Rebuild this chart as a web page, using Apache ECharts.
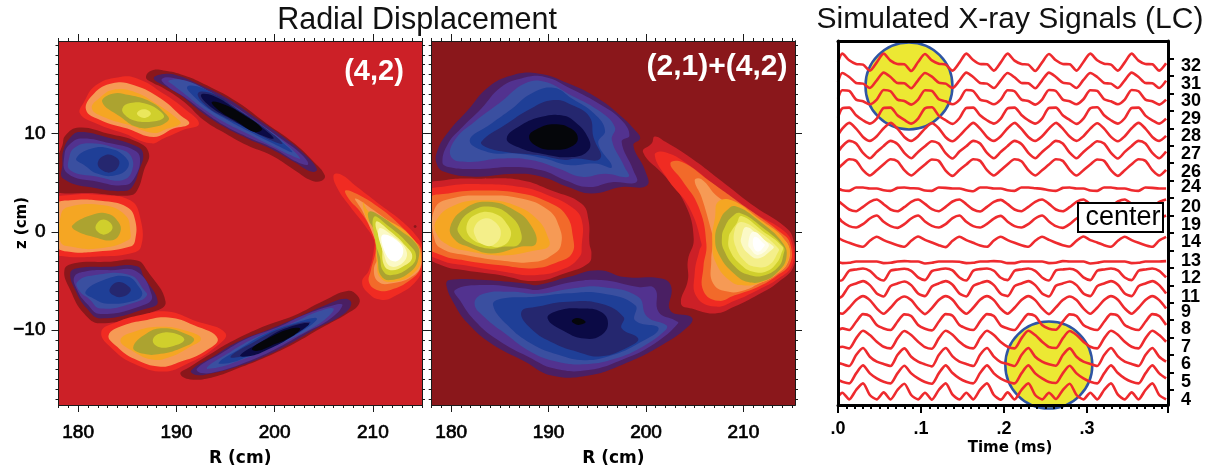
<!DOCTYPE html>
<html><head><meta charset="utf-8">
<script src="https://cdn.jsdelivr.net/npm/echarts@6/dist/echarts.min.js"></script>
<style>html,body{margin:0;padding:0;background:#fff}#c{width:1212px;height:473px}</style>
</head><body><div id="c"></div>
<script>
// ---- contour level colours, lowest to highest displacement
const levelColors=['#05060a','#0b0a45','#25276f','#1f3f97','#3a4fa0','#52328f','#4a1f63','#8a171b','#cc2027','#f02b22','#f26a2a','#f69a55','#f5a623','#aca330','#d0cf2c','#ebe75c','#f4ef8a','#fbf9c6','#fefde8','#ffffff'];
// ---- panel (4,2): each ring = [level, R values, z values]
const upperRidge=[
[7,[186.9,187.5,188.7,190.8,193.1,196.2,199.2,202,204,205.1,204.8,203.8,202,199.6,197.2,195,192.8,190.8,188.7,187.4],[15.75,16.4,16.4,15.9,14.9,13.2,11,9,7.1,5.75,5.2,5.2,6.3,7.8,8.8,10,11.35,13.2,14.6,15.25]],
[6,[187.7,188.4,190.1,192.5,195.2,198.2,200.9,203,204.3,203.8,202,199.6,197.2,194.8,192.5,190.4,188.7],[15.6,16,15.9,14.9,13.55,11.5,9.65,7.95,6.4,6.1,7.1,8.45,9.5,10.7,12.2,13.9,14.9]],
[5,[188.5,189.7,192.1,195.2,198.2,200.9,202.8,203.4,202.3,199.9,197.2,194.8,192.8,190.8,189.2],[15.5,15.65,14.75,13.2,11.2,9.3,7.8,6.85,7.1,8.5,9.65,10.85,12.2,13.7,14.7]],
[4,[189.2,190.8,193.1,195.9,198.6,200.9,202.6,201.6,199.6,197.2,194.8,192.8,190.8,189.7],[15.35,15.4,14.4,12.7,10.85,9.15,7.45,7.8,8.8,10,11.2,12.5,14.05,14.9]],
[3,[191.1,192.8,195.2,197.9,200.3,201.8,199.9,197.5,195.5,193.5,192],[14.75,14.55,13.05,11.2,9.5,8.1,8.95,10.15,11.2,12.35,13.55]],
[2,[192.2,193.8,196.2,198.6,200.8,199.2,196.9,194.8,193],[14.1,14,12.5,10.85,9,9.5,10.7,11.7,12.85]],
[1,[192.5,193.8,196.2,198.2,199.9,197.9,195.5,193.5],[13.9,13.8,12.35,11,9.5,10.15,11.5,12.7]],
[0,[193.6,195,196.9,198.7,198,196.2,194.5],[13.2,12.9,11.85,10.5,10.15,11.2,12.2]]];
const upperWarm=[
[9,[180.2,180.6,181.8,184,186,188.7,190.8,192.3,190.8,188.7,187.4,184.7,181.9],[12,13.2,14.9,15.7,15.6,14.05,12.55,11,10.4,9.5,9,10,11]],
[11,[180.8,181.6,183.5,185.7,188.4,190.4,191.3,189.7,187.7,185,182.3],[12.4,14.05,15.1,14.9,13.55,11.85,11,10.5,9.65,10.5,11.35]],
[12,[181.4,182.3,183.6,185.8,188,190.1,190.4,189.1,187.7,185.2,182.8],[12.55,13.7,14.45,14.2,13,11.5,11,10.5,10.05,10.85,11.6]],
[13,[182.45,183.5,185.2,187.4,188.9,189.2,187.7,186,184.3],[13.2,14.05,13.9,13.2,12,11.35,10.65,10.65,11.7]],
[14,[184.5,185.3,187,188.4,188.7,187.4,185.8,184.8],[12.55,13.1,13,12.2,11.6,11.2,11.3,11.85]],
[15,[186,186.7,187.4,186.9,186.2],[12.1,12.45,12.05,11.6,11.75]]];
const leftUpperBlue=[
[7,[178.4,178.7,180.1,183,186,187.2,186.7,186,185.2,182,177],[8.8,9.8,10.6,10,9.15,8,6.25,4.2,3.7,3.9,4.6]],
[6,[178.5,179.2,180.2,183,185.7,186.6,186.2,185.5,184.7,182,178.5,178.4],[8.3,9.6,10.15,9.6,8.8,8,6.25,4.55,4.15,4.4,5.4,6.95]],
[5,[178.6,179.2,180.4,183.3,185.7,186.3,185.8,184.8,182,178.9],[7.8,8.95,9.5,9,8.3,7.45,5.6,4.75,5.1,5.95]],
[4,[179.1,179.7,181.3,184,185.3,185.5,184.5,182,179.2],[7.6,8.6,9,8.45,7.8,6.25,5.25,5.6,6.25]],
[3,[179.8,181.3,183.3,184.8,185.1,183.8,182,180.6],[7.45,8.45,8.45,7.6,6.6,5.75,5.9,6.8]],
[2,[182,182.8,183.8,184.2,183.5,182.45],[7.05,7.8,7.6,6.95,6.1,6.25]]];
const leftWarm=[
[9,[177.6,179.2,182.3,185.3,186.3,186.4,185.3,182,178.7,177.6],[3.2,3.75,3.75,3.2,1.5,-1.5,-2.2,-2.5,-2.5,-2]],
[11,[177.8,179.2,182.3,185,185.8,185.8,185.3,182,178.9,177.8],[2.7,3.2,3.15,2.5,1.2,-.85,-1.5,-2,-2,-1.35]],
[12,[178.2,178.9,182.6,184.8,185.3,185.1,182,179.2,178.2],[1.5,2.5,2.7,1.7,.15,-.84,-1.7,-1.5,-1]],
[13,[179.4,181.3,183,184.1,184.3,183.5,181.5,179.8],[.65,1.7,1.85,1,0,-.85,-.5,.1]],
[14,[181.8,182.6,183.5,182.8,182],[.65,1.25,.5,-.25,0]]];
const leftLowerBlue=[
[7,[178.6,179.6,183,186,187,188.9,187.7,182.3,180.6,179.2],[-3.9,-3.2,-3.05,-2.9,-3.9,-7.1,-8.1,-9.3,-8.3,-5.9]],
[6,[179.2,179.9,183,186,186.7,188.1,187,182.3,180.9,179.7],[-4.2,-3.7,-3.55,-3.5,-4.6,-7.1,-7.8,-8.8,-7.8,-5.9]],
[5,[179.6,180.6,183.3,186,187.5,187,182.3,180.9,179.9],[-4.6,-4.05,-3.9,-4.05,-6.45,-7.3,-8.35,-7.3,-5.9]],
[4,[179.9,181.6,185.3,186.7,187,186,182.3,181.1,180.2],[-5.1,-4.4,-4.4,-5.9,-6.45,-7.1,-7.8,-6.8,-6.1]],
[3,[180.75,182.6,185,186.2,186.5,185.7,183,181.6],[-6.1,-4.9,-4.55,-5.6,-6.45,-7,-7.3,-6.8]],
[2,[183.2,184.1,185.2,185.3,184.5,183.6],[-5.85,-5.1,-5.6,-6.1,-6.6,-6.45]]];
const lowerWarm=[
[9,[182.35,184,186.35,189.1,191.8,195,193.8,191.1,188.7,185.7,183.6],[-10.2,-9.15,-8.45,-8.1,-9,-10.3,-11.85,-13.4,-14.2,-13.4,-12]],
[11,[183.1,184.65,186.7,189.2,191.8,194.2,192.8,190.4,188.4,185.7,184],[-10.5,-9.5,-9,-8.7,-9.5,-10.85,-12.2,-13.2,-13.7,-12.9,-11.7]],
[12,[184.3,186,188.4,190.8,192.5,191.1,189.4,187.7,185.7],[-11,-10.05,-9.65,-10,-10.85,-11.85,-12.7,-13,-12.2]],
[13,[185.6,187,188.7,190.8,191.8,190.4,188.4,186.7],[-11.75,-10.3,-9.8,-10.3,-11,-11.85,-12.4,-12.4]],
[14,[187.6,188.4,190.1,190.8,189.7,188.2],[-11,-10.3,-10.4,-11,-11.6,-11.7]]];
const lowerRidge=[
[7,[190.4,191.4,193.8,196.2,199.2,202,205,207.4,208.4,208.6,207.4,204.7,202,199.2,196.2,193.8,191.4],[-14.4,-13.7,-12.2,-10.85,-9.5,-8.5,-7,-6,-6.45,-7.3,-8.3,-9.8,-11.35,-12.7,-13.9,-14.75,-15]],
[6,[191.5,193.8,196.2,199.6,202.3,205.4,207.2,207.8,206.9,204.3,201.6,198.9,196.2,193.5,192],[-14.1,-12.65,-11.2,-9.85,-8.7,-7.35,-6.8,-7.3,-8.45,-9.8,-11.35,-12.7,-13.7,-14.4,-14.55]],
[5,[192.1,194.5,197.2,200.3,203,206,206.9,205.7,203,199.9,197.2,194.2,192.5],[-13.9,-12.4,-10.85,-9.7,-8.45,-7.45,-7.45,-8.8,-10.3,-12,-13.2,-14.2,-14.35]],
[4,[193.1,195.5,198.2,201.3,204.3,206,205,202,199.2,196.5,194.2],[-13.8,-12.2,-10.7,-9.5,-8.15,-7.8,-9,-10.7,-12,-13.05,-13.8]],
[3,[194.3,196.5,199.2,202,204.3,202.6,199.9,197.2,195.5],[-13.3,-11.85,-10.3,-9.3,-8.8,-10.2,-11.5,-12.7,-13.3]],
[2,[195.5,197.9,200.6,203.6,202.3,199.6,197.2],[-12.7,-11.2,-9.85,-9.15,-10.2,-11.7,-12.55]],
[1,[196.5,198.6,201,203.5,202,199.2,197.4],[-12.55,-11.2,-9.85,-9.3,-10.5,-12,-12.65]],
[0,[197.7,199.6,201.6,202.6,201.6,199.6,198.2],[-11.85,-10.7,-9.85,-9.85,-10.7,-11.6,-12.1]]];
const rightWarm=[
[9,[206,206.7,208.4,210.8,212.8,214.5,215.1,215.1,214.5,212.1,210.8,209.6,208.9,209.6,210.1,210.1,209.3,207.7,206.4],[5.75,5.85,4.55,2.7,1.2,-.5,-1.7,-2.9,-4.9,-6.6,-6.9,-6.3,-5.1,-3.9,-1.85,-.84,.5,2.55,4.4]],
[10,[207.2,208.4,210.8,212.8,214.2,214.9,214.9,213.8,211.8,210.4,209.6,209.8,210.3,210.2,209.7,208.6,207.6],[4.2,3.85,2.35,.65,-.85,-1.7,-3.55,-4.9,-5.9,-5.9,-5.1,-3.9,-1.85,-.84,.5,2.2,3.3]],
[11,[208.2,210.1,212.8,214.3,214.9,213.9,211.8,210.6,210.1,210.6,210.1,208.9],[3.4,2.2,.15,-1.2,-3.3,-4.6,-5.25,-5.1,-3.9,-2.2,-.5,2.2]],
[12,[209,209.6,211.5,213.9,214.9,214.1,211.8,210.7,210.4,210.1,209.3],[3,2.05,1.2,-.5,-2.5,-4.25,-5.1,-4.6,-3.2,.15,1.5]],
[13,[209.6,210.4,212.8,214.4,214.7,213.9,211.8,210.8,210.5,210.1,209.6],[2.05,1.85,.15,-1.2,-2.4,-4,-4.9,-4.4,-2.9,.15,1.2]],
[14,[210.1,211.5,213.6,214.4,213.6,211.8,211,210.7,210.3],[1.5,.65,-1.2,-2.5,-3.7,-4.4,-3.9,-2.5,-1.2]],
[16,[210.3,211.6,213.4,214,213.1,211.8,211.1,210.9],[1,.2,-1.5,-2.6,-3.5,-3.9,-3.3,-1.5]],
[17,[210.6,212,213.4,213.1,211.8,211.1],[.3,-.4,-1.9,-3.1,-3.5,-2.2]],
[19,[211,212.8,213,212.1,211.2],[-.3,-1.2,-2.4,-3,-2]],
[7,[214.15,214.3,214.45,214.3],[.55,.7,.55,.4]]];
// ---- panel (2,1)+(4,2)
const mixUpperBlue=[
[6,[178.5,178.6,179.7,181.7,183.8,186.2,188.9,192,195.1,197.5,198.9,199.4,198.7,199.9,200.1,197.5,194.4,192,189.3,186.5,182.4,179.3],[6.95,8.3,10.15,12.35,14.7,15.9,16.1,15.1,13.55,11.7,10.3,9.5,8.8,6.25,4.7,4.55,3.9,4.55,5.6,5.9,5.6,6.1]],
[5,[179.1,179.7,181,183.1,185.1,187.2,189.6,192.3,195.4,197.5,198.3,197.5,198.7,199,196.5,194.1,191.7,189.3,186.5,182.4,179.7],[7.1,9,10.5,12.55,14.7,15.6,15.75,14.55,12.9,11.35,9.8,9.15,6.25,5.05,5.05,4.55,5.25,6.25,6.6,6.4,6.6]],
[4,[180,180.35,182.4,185.1,187.6,189.6,192,195.1,196.8,196.5,197.8,198.2,195.8,193.4,191,188.2,185.1,181.7],[7.6,9.3,11.2,13.2,15.1,15.25,14.05,12.35,10.65,9.3,6.6,5.6,5.9,5.6,6.45,7.3,7.45,7.1]],
[3,[181.9,184.1,186.2,188.2,190.5,192.4,194.7,195.8,195.1,196.5,194.8,192,189.6,186.9,183.8],[9.3,11,12.5,14.05,14.65,13.55,12,10.3,9,6.6,6.95,6.8,7.45,7.95,8.1]],
[2,[183.1,185.5,188.2,190.5,192.4,194.2,194.6,195.3,192.7,191.7,188.9,185.8,183.6],[9.15,10.85,12.55,13.4,12.9,11.7,9.65,7.45,7.45,7.3,7.8,8.1,8.6]],
[1,[185.7,187.2,189.3,191.3,192.7,194.1,194.1,192.4,189.3,186.9],[9.5,10.85,11.7,11.85,11.2,9.5,8.3,7.6,7.95,8.6]],
[0,[188,188.9,190.6,192.3,193,192.3,190.6,188.9],[9.65,10.5,10.95,10.5,9.5,8.65,8.35,8.65]]];
const mixLeftWarm=[
[8,[177.5,179.3,183.1,187.2,190.3,193.4,194.1,194.2,194.4,194.1,191.7,188.6,185.1,181.4,179,177.5],[4.55,5.25,5.4,5.25,4.2,2.85,1.2,-1.2,-2.2,-3.2,-4.2,-5,-4.4,-3.9,-3.4,-2.2]],
[9,[177.5,179.3,183.1,187.2,190,192.4,193.4,193.4,193.2,191.7,188.6,185.1,181.4,179,177.5],[3.9,4.6,4.85,4.55,3.7,2.5,1.2,-1.5,-2.5,-3.7,-4.4,-4,-3.4,-2.9,-1.85]],
[10,[177.6,179.7,183.4,187.2,190,191.8,192.5,192.4,191,188.6,185.1,181.4,179.1,177.6],[3.2,3.9,4.2,3.9,3,1.7,-.5,-2.2,-3.05,-3.7,-3.4,-2.9,-2.4,-1.35]],
[11,[178.3,180,183.4,187.2,190,191.1,191.3,190.6,188.6,185.1,181.7,179.3,178.3],[2.35,3.4,3.7,3.4,2.2,.5,-1.2,-2.2,-3.05,-2.9,-2.4,-1.85,-.84]],
[12,[178.5,180.35,183.4,186.5,188.9,190,190,188.9,185.1,181.7,179.7,178.5],[1.2,2.7,3.2,2.7,1.2,-.7,-1.5,-1.85,-2.4,-1.95,-1.35,-.2]],
[13,[179.9,181.4,183.8,186.5,188.2,188.7,187.2,184.1,181.7,180.4],[.5,2.35,3.05,2.2,.65,-1.2,-1.5,-2.2,-1.5,-.84]],
[14,[180.7,181.9,184.1,186.2,187.2,186.9,185.5,183.8,181.7,180.9],[.5,2,2.55,1.5,-.2,-1.3,-1.5,-1.7,-1,-.3]],
[15,[181.6,182.7,184.5,185.8,186.1,185.1,183.8,182.1],[.7,1.85,1.85,.7,-.5,-1.5,-1.35,-.7]],
[16,[182.4,183.4,184.5,185.1,184.3,183.1,182.5],[.5,1.35,1,-.2,-1.35,-1.2,-.5]]];
const mixRightWarm=[
[8,[199.7,200.6,200.9,202,204.7,208.1,211.2,214.3,215.1,215.2,213.6,211.5,209.1,207.1,204.7,203.6,204.3,204.3,204.9,204,202],[8.1,9,9.7,9.15,7.45,4.9,2.55,.5,-.7,-3.4,-5.1,-6.4,-7.6,-8.3,-7.8,-7.3,-4.9,-2.9,-.7,2.85,5.6]],
[9,[200.9,202,204.7,208.1,211.2,214.1,215,215,213.6,211.5,209.1,207.1,205.2,205,205.5,205.7,204.4,202.3],[7.8,8.1,6.6,3.9,1.85,.15,-1.2,-3.4,-4.75,-5.9,-7,-7.6,-6.6,-4.2,-1.85,-1.2,2.55,5.25]],
[10,[202.5,203.7,206.4,210.2,214,214.8,214.8,213.4,211.5,209.1,207.4,205.9,205.9,206.2,205.4,203.7],[6.95,7.1,5.25,2.55,-.2,-1.2,-3.2,-4.5,-5.6,-6.45,-7,-6,-3.55,-1.2,2.55,5.25]],
[11,[205,205.7,207.4,210.2,213.6,214.6,214.6,213.3,211.5,210.2,208.5,206.9,206.7,206.9,206.7,205.7],[5.25,5.35,3.55,2,-.5,-1.35,-3.05,-4.4,-5.3,-5.9,-6.1,-5.25,-2.9,-.84,.15,3.55]],
[12,[207.4,208.8,211.5,214.4,214.6,213.3,211.5,210.2,208.8,207.2,206.8,207.1],[3.05,3.2,1.4,-1,-2.9,-4.35,-5.25,-5.45,-5.1,-3.2,-.8,1.5]],
[13,[208.3,209.2,211.5,214.1,214.4,213.6,212.2,210.5,209,207.6,207.1,207.6],[2.2,2.6,1.2,-1.2,-2.7,-4,-4.95,-5.1,-4.2,-2.5,-.7,1.2]],
[14,[208.8,209.7,211.9,214.1,214.1,213.6,212.2,210.7,209.3,208,207.8,208.1],[1.5,1.9,.5,-1.5,-2.4,-3.55,-4.4,-4.4,-3.7,-1.85,-.5,.5]],
[15,[209.3,209.8,211.9,214,213.9,213.4,212.4,211,209.8,208.6,208.5,208.8],[.85,1.6,.15,-1.5,-2.2,-3.2,-4,-4.05,-3.4,-1.85,-.5,.15]],
[16,[209.8,211.9,213.6,213.6,212.6,211.2,210.2,209.2,209.1],[1,-.2,-1.7,-2,-3.4,-3.55,-3.05,-1.5,.15]],
[17,[210.3,211.9,213.1,212.9,211.5,210.5,209.8,209.8],[.5,-.7,-1.5,-1.85,-2.7,-2.2,-1.2,-.5]],
[18,[211,212.2,212.6,211.5,210.7,210.5],[0,-.85,-1.5,-2.35,-1.7,-1.2]],
[19,[211.2,212.1,212.2,211.5,211],[-.5,-1.2,-1.35,-2,-1.35]]];
const mixLowerBlue=[
[6,[179.5,179.8,183.4,187.6,188.9,192,195.1,197.8,201.6,202.6,202.5,204.7,204.3,201.3,197.8,194.1,190.3,187.6,184.1,181.7,180.3],[-5.4,-4.9,-4.9,-5.25,-5.4,-4.6,-3.9,-4.6,-4.75,-5.6,-8,-8.7,-9.65,-11.7,-13.4,-14.6,-14.6,-13.2,-11.35,-9.3,-7.3]],
[5,[180.4,183.4,187.6,188.9,192.4,195.4,199.2,200.9,201.3,203,203.3,200.9,197.8,194.1,190.6,187.9,184.8,182.4,180.9],[-5.9,-5.4,-5.75,-5.9,-5.1,-4.9,-5.6,-5.75,-8.15,-9,-9.3,-11.35,-12.9,-14.05,-13.9,-12.7,-11,-9,-6.95]],
[4,[182.4,183.3,186.2,188.9,192.4,195.4,199.2,200.1,202.1,202,199.6,196.8,193.7,190.9,188.2,185.5,183.4],[-7.3,-6.3,-6.1,-6.3,-5.75,-5.6,-6.6,-8.6,-9.5,-10,-11.7,-12.9,-13.45,-13.2,-12.2,-10.3,-8.65]],
[3,[184.3,185.1,188.6,192,195.4,198.9,198.9,201.3,199.2,196.5,193.7,191,188.2,185.8],[-7.45,-6.8,-6.6,-6.25,-6.25,-7.45,-9,-9.8,-11.35,-12.55,-13.05,-12.5,-11.35,-9.5]],
[2,[187.2,188.9,192,195.4,197.7,197.5,199.2,198.2,195.4,193,190.6,188.2],[-8.15,-7.6,-7.1,-7.3,-8.65,-9.8,-10.85,-11.7,-12.65,-12.2,-11.35,-9.85]],
[1,[189.9,191,193.4,195.4,196.1,195.4,193.7,191.7],[-8.8,-8,-7.8,-8.15,-9.3,-10.5,-10.85,-10.15]],
[0,[192.4,193,193.8,193.2,192.6],[-9,-8.75,-9.15,-9.45,-9.3]]];
// ---- axis ticks of the two contour panels
const rMajor=[180,190,200,210];
const zMajor=[-10,0,10];
const zMajorLabels=['−10','0','10'];
const rMinorA=[178,179,180,181,182,183,184,185,186,187,188,189,190,191,192,193,194,195,196,197,198,199,200,201,202,203,204,205,206,207,208,209,210,211,212,213,214,215];
const zMinor=[-17,-16,-15,-14,-13,-12,-11,-10,-9,-8,-7,-6,-5,-4,-3,-2,-1,0,1,2,3,4,5,6,7,8,9,10,11,12,13,14,15,16,17,18,19];
// ---- X-ray signal panel
const times=[0,.0052,.0135,.0218,.0301,.0384,.0467,.055,.0633,.0716,.0799,.0882,.0965,.1048,.1131,.1214,.1297,.138,.1463,.1546,.1629,.1712,.1795,.1878,.1961,.2044,.2127,.221,.2293,.2376,.2459,.2542,.2625,.2708,.2791,.2874,.2957,.304,.3123,.3206,.3289,.3372,.3455,.3538,.3621,.3704,.3787,.387,.3953];
const channelNames=['4','5','6','7','8','9','11','12','13','14','19','20','24','26','27','28','29','30','31','32'];
const channelLabelPos=[15,70,123,175,227,280,325,380,433,490,540,595,655,700,753,807,860,912,965,1017];
const channelOffsets=[37,93,147,197,250,300,345,390,430,492,552,600,649,714,767,819,871,925,977,1029];
const axisTickPos=[45,97,150,202,255,307,359,412,464,516,569,621,674,726,778,831,883,936,988,1040];
const ch32=[1, 26,6,-5,-7,-25,0, 26,5,-5,-6,-26,1, 25,6,-4,-7,-25,-1, 26,7,-5,-6,-25,0, 26,5,-5,-7,-26,0, 25,6,-5,-6,-25,1, 26,6,-4,-7,-25,0, 26,5,-5,-6,-25,-3];
const ch31=[-7, 20,8,-10,-12,-25,-2, 21,8,-10,-11,-26,-2, 20,9,-9,-12,-25,-3, 21,8,-10,-12,-25,-2, 20,7,-10,-11,-26,-2, 21,8,-9,-12,-25,-1, 20,8,-10,-12,-25,-2, 21,8,-10,-11,-25,-3];
const ch30=[-5, 20,18,-8,-13,-22,-8, 21,17,-8,-12,-23,-8, 20,18,-7,-13,-22,-9, 21,18,-8,-13,-22,-8, 20,17,-8,-12,-23,-8, 21,18,-8,-13,-22,-7, 20,18,-7,-13,-22,-8, 21,17,-8,-13,-23,-8];
const ch29=[-8, 20,22,-1,-16,-26,-11, 21,22,-1,-15,-26,-11, 20,23,-2,-16,-27,-10, 21,22,-1,-16,-26,-11, 20,22,0,-16,-26,-11, 21,22,-1,-15,-27,-11, 20,23,-1,-16,-26,-10, 21,22,-2,-16,-26,-11];
const ch28=[-9, 11,28,11,-14,-26,-12, 12,28,11,-14,-26,-12, 11,27,12,-15,-27,-11, 11,28,11,-14,-26,-12, 12,28,10,-14,-26,-12, 11,28,11,-13,-26,-12, 11,27,11,-14,-27,-12, 12,28,11,-14,-26,-11];
const ch27=[-7, 10,26,18,-10,-26,-7, 11,26,17,-10,-26,-7, 10,25,18,-11,-27,-6, 10,26,18,-10,-26,-7, 11,26,17,-10,-26,-7, 10,26,18,-9,-26,-7, 10,25,18,-10,-27,-7, 11,26,18,-10,-26,-6];
const ch26=[-4, 8,24,19,-9,-25,-9, 9,24,18,-9,-25,-9, 8,23,19,-10,-26,-8, 8,24,19,-9,-25,-9, 9,24,18,-9,-25,-9, 8,24,19,-8,-25,-9, 8,23,19,-9,-26,-9, 9,24,19,-9,-25,-8];
const ch24=[1, -4,-6,4,4,1,1, -4,-6,3,4,2,1, -5,-6,4,3,1,1, -4,-7,4,4,1,1, -4,-6,4,4,2,0, -4,-6,3,4,1,1, -5,-6,4,4,1,1, -4,-6,4,3,1,1];
const ch20=[13, 3,-13,-18,-5,10,17, 3,-13,-18,-6,10,17, 4,-12,-18,-5,11,17, 3,-13,-19,-5,10,16, 3,-13,-18,-5,10,17, 4,-13,-18,-6,10,17, 3,-12,-18,-5,11,17, 3,-13,-18,-5,10,17];
const ch19=[13, -2,-15,-19,-9,8,17, -2,-15,-20,-9,8,17, -1,-14,-19,-9,9,17, -2,-15,-19,-8,8,16, -2,-15,-19,-9,8,17, -1,-15,-20,-9,8,17, -2,-14,-19,-9,9,17, -2,-15,-19,-9,8,17];
const ch14=[11, 3,-5,-12,-17,1,13, 3,-5,-12,-17,1,14, 4,-4,-12,-18,1,13, 3,-5,-13,-17,2,13, 3,-5,-12,-17,1,13, 4,-5,-12,-16,1,14, 3,-4,-12,-17,1,13, 3,-5,-12,-17,2,13];
const ch13=[0, -4,-3,1,1,1,1, -4,-3,1,2,1,1, -5,-3,1,1,1,0, -4,-3,1,1,2,1, -4,-4,1,1,1,1, -4,-3,2,1,1,1, -5,-3,1,1,1,1, -4,-3,1,1,1,2];
const ch12=[-17, -15,13,17,20,13,-7, -16,13,17,19,13,-7, -15,12,17,20,14,-7, -16,13,18,20,13,-8, -15,13,17,20,13,-7, -16,14,17,19,13,-7, -15,13,17,20,14,-7, -15,13,17,20,13,-7];
const ch11=[-25, -18,12,20,27,15,-10, -19,12,20,26,15,-10, -18,11,20,27,16,-10, -19,12,21,27,15,-11, -18,12,20,27,15,-10, -19,13,20,26,15,-10, -18,12,20,27,16,-10, -18,12,20,27,15,-10];
const ch9=[-23, -26,-8,15,27,15,-10, -26,-8,15,26,15,-10, -27,-9,15,27,16,-10, -26,-8,16,27,15,-11, -26,-8,15,27,15,-10, -27,-7,15,26,15,-10, -26,-8,15,27,16,-10, -26,-8,15,27,15,-10];
const ch8=[-25, -20,-25,0,23,17,-10, -20,-25,0,22,17,-10, -21,-26,0,23,18,-10, -20,-25,1,23,17,-11, -20,-25,0,23,17,-10, -21,-24,0,22,17,-10, -20,-25,0,23,18,-10, -20,-25,0,23,17,-10];
const ch7=[-24, -22,-27,3,26,13,-7, -22,-27,3,25,13,-7, -23,-28,3,26,14,-7, -22,-27,4,26,13,-8, -22,-27,3,26,13,-7, -23,-26,3,25,13,-7, -22,-27,3,26,14,-7, -22,-27,3,26,13,-7];
const ch6=[-20, -24,-30,3,24,-2,-17, -24,-30,3,23,-2,-17, -25,-31,3,24,-1,-17, -24,-30,4,24,-2,-18, -24,-30,3,24,-2,-17, -25,-29,3,23,-2,-17, -24,-30,3,24,-1,-17, -24,-30,3,24,-2,-17];
const ch5=[-18, -23,-28,2,26,2,-13, -23,-28,2,25,2,-13, -24,-29,2,26,3,-13, -23,-28,3,26,2,-14, -23,-28,2,26,2,-13, -24,-27,2,25,2,-13, -23,-28,2,26,3,-13, -23,-28,2,26,2,-13];
const ch4=[-12, 0,-20,8,28,-7,-20, 1,-20,8,27,-7,-20, 0,-21,8,28,-6,-20, 0,-20,9,28,-7,-21, 1,-20,8,28,-7,-20, 0,-19,8,27,-7,-20, 0,-20,8,28,-6,-20, 1,-20,8,28,-7,-20];
const channelSignals=[ch4,ch5,ch6,ch7,ch8,ch9,ch11,ch12,ch13,ch14,ch19,ch20,ch24,ch26,ch27,ch28,ch29,ch30,ch31,ch32];
const viewPorts=[[.0855,958],[.254,120]];

const panelARings=[].concat(upperRidge,upperWarm,leftUpperBlue,leftWarm,leftLowerBlue,lowerWarm,lowerRidge,rightWarm);
const panelBRings=[].concat(mixLeftWarm,mixUpperBlue,mixRightWarm,mixLowerBlue);

const numFont='"Liberation Sans",Arial,sans-serif';
const nameFont='"DejaVu Sans",sans-serif';
const dark='#1a1a1a';
const numStyle={color:'#000',fontFamily:numFont,fontSize:19,textBorderColor:'#000',textBorderWidth:.7};
const xAxes=[],yAxes=[];
function addPanel(gi,rMax,showZ){
  const line={show:true,onZero:false,lineStyle:{color:dark,width:1}};
  const bx=(g,pos,extra)=>Object.assign({type:'value',position:pos,gridIndex:g,min:178,max:rMax,z:6,axisLine:line,splitLine:{show:false},axisLabel:{show:false}},extra);
  const by=(g,pos,extra)=>Object.assign({type:'value',position:pos,gridIndex:g,min:-17.6,max:19.4,z:6,axisLine:line,splitLine:{show:false},axisLabel:{show:false}},extra);
  const tk=(vals,len)=>({show:true,customValues:vals,length:len,inside:false,lineStyle:{color:dark,width:1}});
  xAxes.push(bx(gi,'bottom',{axisTick:tk(rMajor,7),axisLabel:Object.assign({customValues:rMajor,margin:18,formatter:v=>String(v)},numStyle),
    name:'R (cm)',nameLocation:'middle',nameGap:45,nameMoveOverlap:false,nameTextStyle:{fontFamily:nameFont,fontWeight:'bold',fontSize:17,color:'#000'}}));
  xAxes.push(bx(gi,'top',{axisTick:tk(rMajor,7)}));
  yAxes.push(by(gi,'left',{axisTick:tk(zMajor,7),
     axisLabel:showZ?Object.assign({customValues:zMajor,margin:13,formatter:v=>zMajorLabels[zMajor.indexOf(v)]},numStyle):{show:false},
     name:showZ?'z (cm)':'',nameLocation:'middle',nameGap:29,nameMoveOverlap:false,nameTextStyle:{fontFamily:nameFont,fontWeight:'bold',fontSize:15,color:'#000'}}));
  yAxes.push(by(gi,'right',{axisTick:tk(zMajor,7)}));
  // short 1 cm ticks on an overlaid grid
  xAxes.push(bx(gi+1,'bottom',{axisTick:tk(rMinorA,3)}));
  xAxes.push(bx(gi+1,'top',{axisTick:tk(rMinorA,3)}));
  yAxes.push(by(gi+1,'left',{axisTick:tk(zMinor,3)}));
  yAxes.push(by(gi+1,'right',{axisTick:tk(zMinor,3)}));
}
addPanel(0,215,true);     // x 0..3, y 0..3
addPanel(2,215.3,false);  // x 4..7, y 4..7
const sX=8,sY=8;
xAxes.push({type:'value',gridIndex:4,position:'bottom',min:0,max:.3976,interval:.1,z:6,
  axisLine:{show:true,onZero:false,lineStyle:{color:'#000',width:3}},splitLine:{show:false},
  axisTick:{show:true,length:8,lineStyle:{color:'#000',width:2}},minorTick:{show:true,splitNumber:10,length:4,lineStyle:{color:'#000',width:2}},
  axisLabel:{margin:15,showMaxLabel:false,color:'#000',fontFamily:numFont,fontWeight:'bold',fontSize:18,formatter:v=>'.'+Math.round(v*10)},
  name:'Time (ms)',nameLocation:'middle',nameGap:36,nameMoveOverlap:false,nameTextStyle:{fontFamily:nameFont,fontWeight:'bold',fontSize:15,color:'#000',padding:[0,0,0,14]}});
xAxes.push({type:'value',gridIndex:4,position:'top',min:0,max:.3976,z:6,axisLine:{show:true,onZero:false,lineStyle:{color:'#000',width:3}},axisTick:{show:false},axisLabel:{show:false},splitLine:{show:false}});
yAxes.push({type:'value',gridIndex:4,position:'right',min:0,max:1093,z:6,
  axisLine:{show:true,onZero:false,lineStyle:{color:'#000',width:3}},splitLine:{show:false},
  axisTick:{show:true,customValues:axisTickPos,length:6,lineStyle:{color:'#000',width:2}},
  axisLabel:{customValues:channelLabelPos.concat([1092]),margin:13,hideOverlap:false,lineHeight:12,color:'#000',fontFamily:numFont,fontWeight:'bold',fontSize:18,
    formatter:v=>channelNames[channelLabelPos.indexOf(v)]||''}});
yAxes.push({type:'value',gridIndex:4,position:'left',min:0,max:1093,z:6,axisLine:{show:true,onZero:false,lineStyle:{color:'#000',width:3}},axisTick:{show:false},axisLabel:{show:false},splitLine:{show:false}});

function contourSeries(rings,xi,yi){
  return {type:'custom',xAxisIndex:xi,yAxisIndex:yi,clip:true,silent:true,animation:false,z:2,
    encode:{x:0,y:1},data:rings.map(r=>[r[1][0],r[2][0]]),
    renderItem:(p,api)=>{const r=rings[p.dataIndex];
      return {type:'polygon',shape:{points:r[1].map((x,i)=>api.coord([x,r[2][i]])),smooth:.45},style:{fill:levelColors[r[0]]}};}};
}
const series=[contourSeries(panelARings,0,0),contourSeries(panelBRings,4,4),
 {type:'scatter',xAxisIndex:sX,yAxisIndex:sY,clip:false,silent:true,z:2,symbolSize:87,data:viewPorts,animation:false,
  itemStyle:{color:'#ece833',borderColor:'#2f55a4',borderWidth:2.5,opacity:1}}];
channelSignals.forEach((sig,k)=>series.push({type:'line',name:channelNames[k],xAxisIndex:sX,yAxisIndex:sY,z:3,animation:false,silent:true,
  showSymbol:false,smooth:.25,clip:false,lineStyle:{color:'#ee2a2e',width:2.6},data:times.map((t,i)=>[t,channelOffsets[k]+sig[i]])}));

const chart=echarts.init(document.getElementById('c'),null,{renderer:'canvas'});
const gridCommon={outerBoundsMode:'none',containLabel:false,borderWidth:0};
chart.setOption({animation:false,backgroundColor:'#fff',
 title:[
  {text:'Radial Displacement',left:412,top:0,textAlign:'center',textStyle:{fontFamily:numFont,fontWeight:'normal',fontSize:30.5,color:'#111'}},
  {text:'Simulated X-ray Signals (LC)',left:1005,top:0,textAlign:'center',textStyle:{fontFamily:numFont,fontWeight:'normal',fontSize:30,color:'#111'}},
  {text:'(4,2)',left:369,top:52,textAlign:'center',textStyle:{fontFamily:numFont,fontWeight:'bold',fontSize:29,color:'#fff'}},
  {text:'(2,1)+(4,2)',left:712,top:47,textAlign:'center',textStyle:{fontFamily:numFont,fontWeight:'bold',fontSize:30,color:'#fff'}}],
 grid:[
  Object.assign({left:58.5,top:41,width:363.5,height:364,show:true,backgroundColor:'#cc2027'},gridCommon),
  Object.assign({left:58.5,top:41,width:363.5,height:364,show:false},gridCommon),
  Object.assign({left:431.7,top:41,width:363.3,height:364,show:true,backgroundColor:'#8a171b'},gridCommon),
  Object.assign({left:431.7,top:41,width:363.3,height:364,show:false},gridCommon),
  Object.assign({left:838,top:41,width:330,height:364,show:false},gridCommon)],
 xAxis:xAxes,yAxis:yAxes,series,
 graphic:[
  {type:'rect',z:100,zlevel:1,shape:{x:1078,y:203,width:85,height:29},style:{fill:'#ffffff',stroke:'#000',lineWidth:2}},
  {type:'text',z:101,zlevel:1,style:{x:1123,y:218,text:'center',fontFamily:numFont,fontSize:27,fill:'#000',align:'center',verticalAlign:'middle'}}]
});
</script></body></html>
